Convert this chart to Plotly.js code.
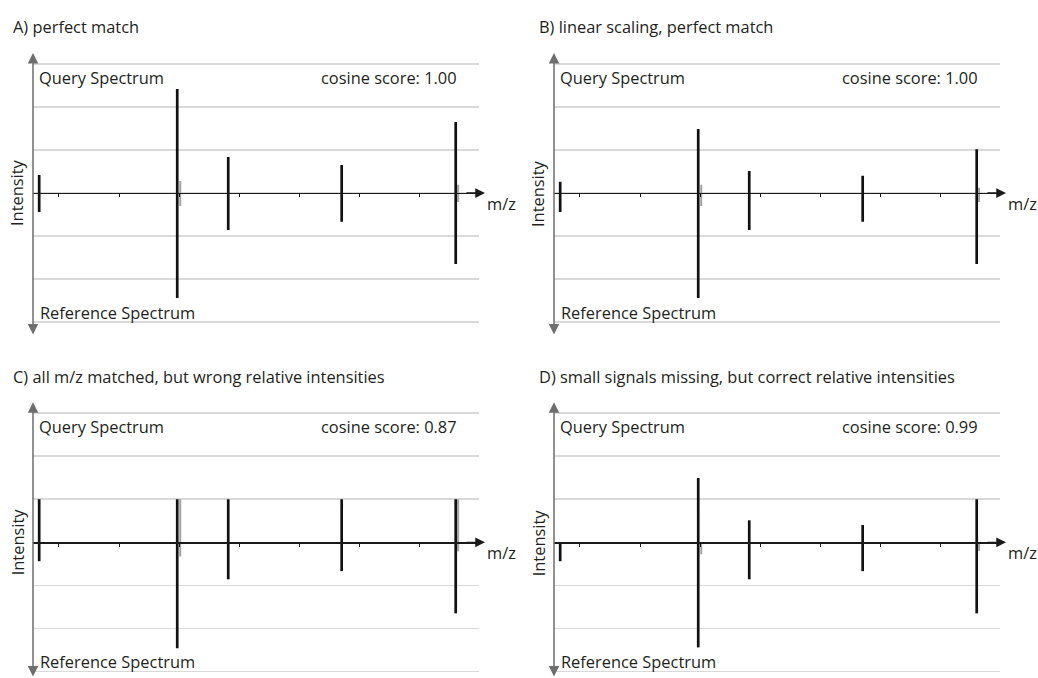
<!DOCTYPE html>
<html>
<head>
<meta charset="utf-8">
<script src="https://cdn.plot.ly/plotly-3.0.1.min.js"></script>
<style>html,body{margin:0;padding:0;background:#fff;}#chart{width:1038px;height:678px;}</style>
</head>
<body>
<div id="chart"></div>
<script>
// ---------- DATA ----------
const panelTitles = [
  "A) perfect match",
  "B) linear scaling, perfect match",
  "C) all m/z matched, but wrong relative intensities",
  "D) small signals missing, but correct relative intensities"
];
const cosineScores = ["1.00", "1.00", "0.87", "0.99"];
const mzValues = [67, 297, 382, 571, 761];      // black peaks (m/z)
const minorMz = [302, 765];                    // grey peaks next to the big peaks
const tickMz = [100, 200, 300, 400, 500, 600, 700];
const gridLevels = [-3, -2, -1, 0, 1, 2, 3];

const queryA = [0.42, 2.42, 0.84, 0.65, 1.65];
const refA   = [0.44, 2.44, 0.86, 0.67, 1.65];
const minorQueryA = [0.28, 0.19];
const minorRefA   = [0.30, 0.21];

const queryB = [0.26, 1.49, 0.51, 0.40, 1.02];
const refB   = [0.44, 2.44, 0.86, 0.67, 1.65];
const minorQueryB = [0.19, 0.12];
const minorRefB   = [0.30, 0.21];

const queryC = [1.00, 1.00, 1.00, 1.00, 1.00];
const refC   = [0.44, 2.46, 0.86, 0.67, 1.65];
const minorQueryC = [1.00, 1.00];
const minorRefC   = [0.33, 0.21];

const queryD = [0.00, 1.49, 0.51, 0.40, 1.00];
const refD   = [0.44, 2.44, 0.86, 0.67, 1.65];
const minorQueryD = [0.00, 0.00];
const minorRefD   = [0.28, 0.20];

const labelQuery = "Query Spectrum";
const labelRef = "Reference Spectrum";
const labelY = "Intensity";
const labelX = "m/z";

// ---------- LAYOUT CONSTANTS ----------
const W = 1038, H = 678;
const px = x => x / W;
const py = y => 1 - y / H;
const FONT = "Open Sans";
const TXT = "#231f20";
const FS = 16.4;

const panels = [
  {q: queryA, r: refA, mq: minorQueryA, mr: minorRefA, left: 33,  right: 479,  zero: 193,   unit: 43.0, titleX: 11},
  {q: queryB, r: refB, mq: minorQueryB, mr: minorRefB, left: 554, right: 1000, zero: 193,   unit: 43.0, titleX: 537},
  {q: queryC, r: refC, mq: minorQueryC, mr: minorRefC, left: 33,  right: 479,  zero: 542.3, unit: 43.1, titleX: 11},
  {q: queryD, r: refD, mq: minorQueryD, mr: minorRefD, left: 554, right: 1000, zero: 542.3, unit: 43.1, titleX: 537}
];
const YR = 3.15;
const XR = [56.7, 799.8];

function segs(xs, up, down) {
  const x = [], y = [];
  xs.forEach((v, i) => { x.push(v, v, null); y.push(up[i], -down[i], null); });
  return {x, y};
}

const data = [];
const layout = {
  width: W, height: H,
  margin: {l: 0, r: 0, t: 0, b: 0},
  paper_bgcolor: "#fff", plot_bgcolor: "rgba(0,0,0,0)",
  showlegend: false,
  font: {family: FONT, color: TXT, size: FS},
  annotations: []
};

panels.forEach((p, i) => {
  const n = i === 0 ? "" : String(i + 1);
  const xa = "x" + n, ya = "y" + n;
  const g = segs(minorMz, p.mq, p.mr);
  data.push({type: "scatter", mode: "lines", x: g.x, y: g.y, xaxis: xa, yaxis: ya,
    line: {color: "#a3a3a3", width: 2}, hoverinfo: "skip", cliponaxis: false});
  const b = segs(mzValues, p.q, p.r);
  data.push({type: "scatter", mode: "lines", x: b.x, y: b.y, xaxis: xa, yaxis: ya,
    line: {color: "#111111", width: 2.7}, hoverinfo: "skip", cliponaxis: false});

  const top = p.zero - YR * p.unit, bot = p.zero + YR * p.unit;
  layout["xaxis" + n] = {
    domain: [px(p.left), px(p.right)], range: XR, anchor: "free", position: py(p.zero),
    showgrid: false, zeroline: false, showline: true, linecolor: "#1a1a1a", linewidth: 1.3,
    ticks: "outside", ticklen: 3, tickwidth: 1, tickcolor: "#1a1a1a",
    tickmode: "array", tickvals: tickMz, showticklabels: false, fixedrange: true
  };
  layout["yaxis" + n] = {
    domain: [py(bot), py(top)], range: [-YR, YR], anchor: xa,
    showgrid: true, gridcolor: "#d9d9d9", gridwidth: 1.4, tickmode: "array", tickvals: gridLevels,
    zeroline: false, showline: false, ticks: "", showticklabels: false, fixedrange: true
  };

  const A = layout.annotations;
  // y-axis double arrow
  A.push({xref: "paper", yref: "paper", x: px(p.left), y: py(p.zero - 140), ax: 0, ay: 283,
    text: "", showarrow: true, arrowside: "end+start", arrowhead: 2, startarrowhead: 2,
    arrowsize: 1.4, startarrowsize: 1.4, arrowwidth: 1.5, arrowcolor: "#6e6e6e", standoff: 0, startstandoff: 0});
  // x-axis arrow extension
  A.push({xref: "paper", yref: "paper", x: px(p.right + 6), y: py(p.zero), ax: -20, ay: 0,
    text: "", showarrow: true, arrowhead: 2, arrowsize: 1.5, arrowwidth: 1.3,
    arrowcolor: "#1a1a1a", standoff: 0});
  // texts
  A.push({xref: "paper", yref: "paper", x: px(p.titleX), y: py(p.zero - 166), xanchor: "left", yanchor: "middle",
    text: panelTitles[i], showarrow: false, font: {size: FS}});
  A.push({xref: "paper", yref: "paper", x: px(p.left + 4), y: py(p.zero - 116), xanchor: "left", yanchor: "middle",
    text: labelQuery, showarrow: false, font: {size: FS}});
  A.push({xref: "paper", yref: "paper", x: px(p.right - 20), y: py(p.zero - 116), xanchor: "right", yanchor: "middle",
    text: "cosine score: " + cosineScores[i], showarrow: false, font: {size: FS}});
  A.push({xref: "paper", yref: "paper", x: px(p.left + 5), y: py(p.zero + 119), xanchor: "left", yanchor: "middle",
    text: labelRef, showarrow: false, font: {size: FS}});
  A.push({xref: "paper", yref: "paper", x: px(p.left - 16), y: py(p.zero), xanchor: "center", yanchor: "middle",
    text: labelY, textangle: -90, showarrow: false, font: {size: FS}});
  A.push({xref: "paper", yref: "paper", x: px(p.right + 6), y: py(p.zero + 10), xanchor: "left", yanchor: "middle",
    text: labelX, showarrow: false, font: {size: FS}});
});

Plotly.newPlot("chart", data, layout, {staticPlot: true, displayModeBar: false});
</script>
</body>
</html>
